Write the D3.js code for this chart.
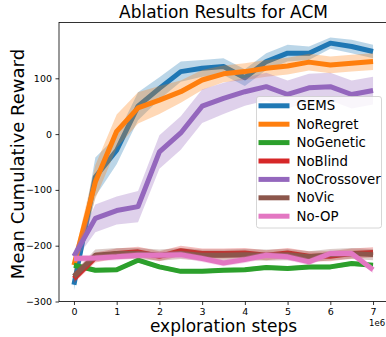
<!DOCTYPE html>
<html>
<head>
<meta charset="utf-8">
<script src="https://cdn.jsdelivr.net/npm/d3@7"></script>
<style>
  body { margin: 0; background: #fff; }
  svg { font-family: "DejaVu Sans", sans-serif; display: block; }
</style>
</head>
<body>
<div id="graf"></div>
<script>
// Datos
const steps = [0, 0.5, 1, 1.5, 2, 2.5, 3, 3.5, 4, 4.5, 5, 5.5, 6, 6.5, 7]
const names = ["GEMS", "NoRegret", "NoGenetic", "NoBlind", "NoCrossover", "NoVic", "No-OP"]
const colors = ["#1f77b4", "#ff7f0e", "#2ca02c", "#d62728", "#9467bd", "#8c564b", "#e377c2"]

const gems = [-270, -77, -29, 50, 82, 112, 118, 121, 101, 130, 145, 145, 163, 157, 148]
const noRegret = [-235, -86, 5, 47, 61, 76, 97, 108, 112, 118, 122, 129, 124, 127, 130]
const noGenetic = [-235, -244, -243, -226, -238, -246, -246, -244, -243, -239, -241, -238, -238, -232, -235]
const noBlind = [-259, -221, -214, -211, -219, -209, -214, -214, -213, -217, -213, -219, -219, -214, -212]
const noCrossover = [-219, -151, -137, -130, -32, 2, 50, 64, 76, 85, 71, 83, 85, 71, 78]
const noVic = [-255, -217, -214, -214, -217, -214, -217, -217, -216, -217, -216, -220, -216, -214, -216]
const noOp = [-223, -222, -220, -217, -217, -216, -223, -231, -225, -217, -220, -229, -214, -214, -243]

// half-width of the shaded band
const gemsSd = [10, 35, 25, 25, 20, 18, 15, 15, 15, 15, 15, 12, 10, 12, 12]
const noRegretSd = [15, 30, 30, 28, 25, 20, 18, 15, 15, 15, 15, 15, 15, 15, 15]
const noGeneticSd = [4, 4, 4, 4, 4, 4, 4, 4, 4, 4, 4, 4, 4, 4, 4]
const noBlindSd = [8, 9, 9, 9, 9, 9, 9, 9, 9, 9, 9, 9, 9, 9, 9]
const noCrossoverSd = [10, 25, 25, 28, 30, 30, 30, 28, 25, 25, 25, 25, 25, 25, 25]
const noVicSd = [8, 10, 10, 10, 10, 10, 10, 10, 10, 10, 10, 10, 10, 10, 10]
const noOpSd = [6, 6, 6, 6, 6, 6, 6, 6, 6, 6, 6, 6, 6, 6, 6]

const yTicks = [-300, -200, -100, 0, 100]
const xTicks = [0, 1, 2, 3, 4, 5, 6, 7]

const series = [
  [gems, gemsSd], [noRegret, noRegretSd], [noGenetic, noGeneticSd], [noBlind, noBlindSd],
  [noCrossover, noCrossoverSd], [noVic, noVicSd], [noOp, noOpSd]
].map(([v, s], i) => ({
  name: names[i], color: colors[i],
  pts: steps.map((x, j) => ({ x, y: v[j], lo: v[j] - s[j], hi: v[j] + s[j] }))
}))

// Dimensiones
const anchoTotal = 386, altoTotal = 337
const margins = { top: 22.5, left: 59, right: -2, bottom: 35.5 }
const ancho = anchoTotal - margins.left - margins.right
const alto = altoTotal - margins.top - margins.bottom

const svg = d3.select("#graf").append("svg")
  .attr("width", anchoTotal).attr("height", altoTotal)

const g = svg.append("g").attr("transform", `translate(${margins.left}, ${margins.top})`)

// Escaladores
const x = d3.scaleLinear().domain([-0.35, 7.35]).range([0, ancho])
const y = d3.scaleLinear().domain([-300, 200]).range([alto, 0])

svg.append("clipPath").attr("id", "clip")
  .append("rect").attr("width", ancho).attr("height", alto)

const plot = g.append("g").attr("clip-path", "url(#clip)")

const area = d3.area().x(d => x(d.x)).y0(d => y(d.lo)).y1(d => y(d.hi))
const line = d3.line().x(d => x(d.x)).y(d => y(d.y))

series.forEach(s => {
  plot.append("path").attr("d", area(s.pts))
    .attr("fill", s.color).attr("fill-opacity", 0.3).attr("stroke", "none")
  plot.append("path").attr("d", line(s.pts))
    .attr("fill", "none").attr("stroke", s.color).attr("stroke-width", 5)
    .attr("stroke-linejoin", "round")
})

// Ejes
const fmt = d => d3.format("d")(d).replace("-", "\u2212")
const xAxis = g.append("g").attr("transform", `translate(0, ${alto})`)
  .call(d3.axisBottom(x).tickValues(xTicks).tickSize(3.5).tickPadding(3.5).tickFormat(fmt))
const yAxis = g.append("g")
  .call(d3.axisLeft(y).tickValues(yTicks).tickSize(3.5).tickPadding(3.5).tickFormat(fmt))
;[xAxis, yAxis].forEach(a => {
  a.selectAll("text").attr("font-size", 9.5).attr("font-family", "DejaVu Sans").attr("fill", "#000")
  a.selectAll("line").attr("stroke", "#000").attr("stroke-width", 0.8)
  a.select(".domain").remove()
})

// Marco
g.append("rect").attr("width", ancho).attr("height", alto)
  .attr("fill", "none").attr("stroke", "#000").attr("stroke-width", 0.8)

// Leyenda
const leg = svg.append("g").attr("transform", "translate(256.5, 96.5)")
leg.append("rect").attr("width", 125).attr("height", 131.5).attr("rx", 2.5)
  .attr("fill", "#fff").attr("fill-opacity", 0.8).attr("stroke", "#ccc").attr("stroke-width", 0.8)
series.forEach((s, i) => {
  const row = leg.append("g").attr("transform", `translate(0, ${9.3 + i * 18.4})`)
  row.append("line").attr("x1", 2).attr("x2", 33).attr("stroke", s.color).attr("stroke-width", 5)
  row.append("text").attr("x", 40).attr("dy", "0.35em").attr("font-size", 13.3).text(s.name)
})

// Textos
svg.append("text").attr("x", margins.left + x(3.5)).attr("y", 18).attr("text-anchor", "middle")
  .attr("font-size", 17).text("Ablation Results for ACM")
svg.append("text").attr("x", margins.left + x(3.5)).attr("y", 332).attr("text-anchor", "middle")
  .attr("font-size", 17).text("exploration steps")
svg.append("text").attr("transform", `translate(24, ${margins.top + alto / 2 + 2}) rotate(-90)`)
  .attr("text-anchor", "middle").attr("font-size", 18).text("Mean Cumulative Reward")
svg.append("text").attr("x", 369).attr("y", 326).attr("font-size", 8.5).text("1e6")
</script>
</body>
</html>
